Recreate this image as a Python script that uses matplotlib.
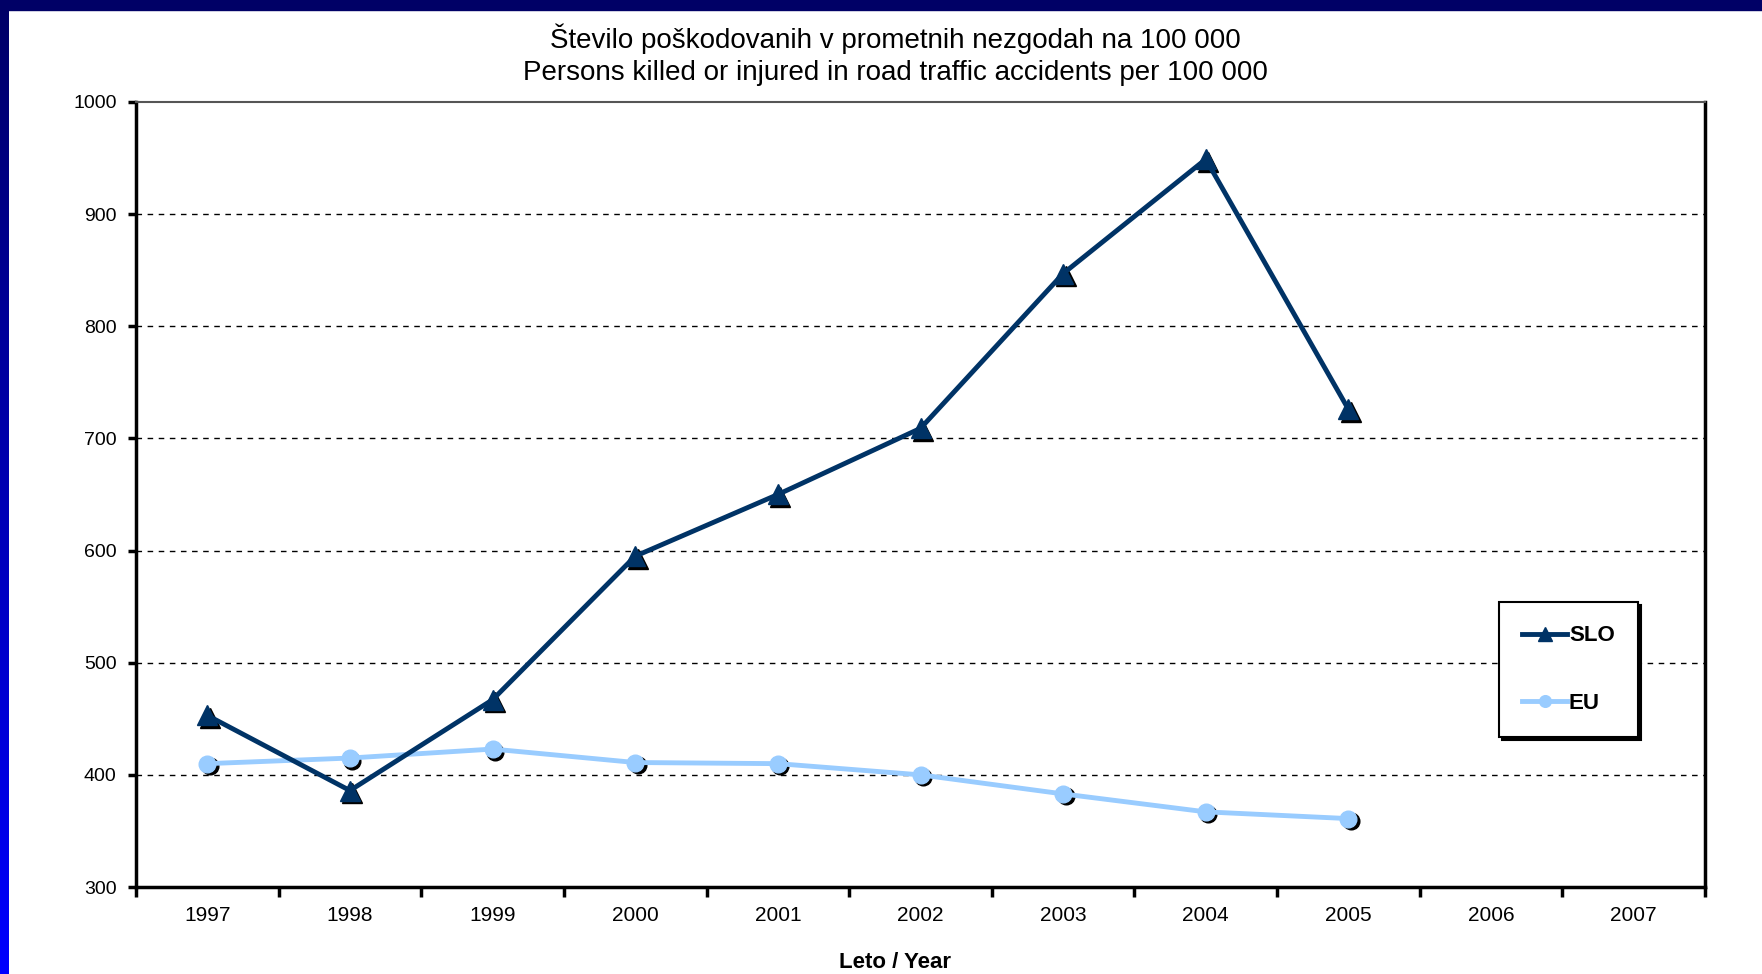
import matplotlib.pyplot as plt
import matplotlib.transforms as mtransforms
from matplotlib.patches import Rectangle
import numpy as np

plt.rcParams['font.family'] = ['Liberation Sans', 'DejaVu Sans']

years = ['1997', '1998', '1999', '2000', '2001', '2002', '2003', '2004', '2005', '2006', '2007']
slo = [453, 386, 467, 595, 650, 709, 847, 949, 726]
eu = [410, 415, 423, 411, 410, 400, 383, 367, 361]
yticks = [300, 400, 500, 600, 700, 800, 900, 1000]

title = "Število poškodovanih v prometnih nezgodah na 100 000\nPersons killed or injured in road traffic accidents per 100 000"

fig = plt.figure(figsize=(17.62, 9.74), dpi=100)

# blue slide frame: gradient strip on the left, navy band on top
grad = np.linspace(0, 1, 256).reshape(-1, 1)
bax = fig.add_axes([0, 0, 9 / 1762, 1])
bax.imshow(np.dstack([np.zeros_like(grad), np.zeros_like(grad), 0.4 + 0.6 * grad]),
           aspect='auto', extent=[0, 1, 0, 1])
bax.axis('off')
fig.patches.append(Rectangle((0, 1 - 10 / 974), 1, 10 / 974, transform=fig.transFigure,
                             color='#000066', zorder=5))

ax = fig.add_axes([136 / 1762, 1 - 887 / 974, (1705 - 136) / 1762, (887 - 102) / 974])
x = np.arange(len(years))

shadow = mtransforms.offset_copy(ax.transData, fig=fig, x=2.5, y=-2.5, units='dots')

# shadows of the markers
ax.plot(x[:len(slo)], slo, '^', color='black', ms=15, transform=shadow, zorder=2)
ax.plot(x[:len(eu)], eu, 'o', color='black', ms=12, transform=shadow, zorder=2)

ax.plot(x[:len(slo)], slo, color='#003366', lw=3.5, marker='^', ms=15, zorder=4, label='SLO')
ax.plot(x[:len(eu)], eu, color='#99CCFF', lw=3.5, marker='o', ms=12, zorder=3, label='EU')

ax.set_xlim(-0.5, len(years) - 0.5)
ax.set_ylim(300, 1000)
ax.set_yticks(yticks)
ax.set_xticks(x)
ax.set_xticklabels(years)
ax.set_xticks(np.arange(-0.5, len(years)), minor=True)
ax.tick_params(axis='x', which='major', length=0, pad=14, labelsize=15)
ax.tick_params(axis='x', which='minor', length=7, width=2.5, direction='out')
ax.tick_params(axis='y', length=6, width=2.5, pad=8, labelsize=14)

for v in yticks[1:-1]:
    ax.axhline(v, color='black', lw=1, ls=(0, (4, 4)), zorder=1)

ax.spines['left'].set_linewidth(2.5)
ax.spines['bottom'].set_linewidth(2.5)
ax.spines['right'].set_linewidth(2.5)
ax.spines['top'].set_linewidth(1.5)
ax.spines['top'].set_color('#555555')

fig.text(0.508, 1 - 55 / 974, title, ha='center', va='center', fontsize=20, linespacing=1.3)
fig.text(0.508, 1 - 962 / 974, 'Leto / Year', ha='center', va='center',
         fontsize=16, fontweight='bold')

leg = ax.legend(loc='upper left', bbox_to_anchor=(1499 / 1762, 1 - 602 / 974),
                bbox_transform=fig.transFigure, frameon=True, fancybox=False,
                edgecolor='black', shadow={'color': 'black', 'alpha': 1},
                prop={'weight': 'bold', 'size': 16}, handlelength=2.0,
                handletextpad=0.1, labelspacing=2.1, borderpad=1.05, borderaxespad=0,
                markerscale=0.7)
leg.get_frame().set_linewidth(1.5)

fig.savefig('out.png', dpi=100)
